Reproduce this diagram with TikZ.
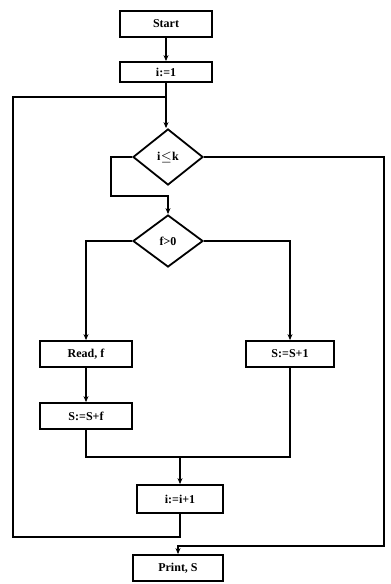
\documentclass[tikz,border=0pt]{standalone}
\usepackage{fontspec}
\setmainfont{Liberation Serif}
\usetikzlibrary{shapes.geometric,arrows.meta}

\begin{document}
\begin{tikzpicture}[x=0.5pt,y=-0.5pt, line width=0.9pt,
    >={Stealth[length=3pt,width=2.5pt]},
    box/.style={draw,minimum width=46pt,minimum height=13pt,inner sep=1pt,font=\bfseries\fontsize{6}{7}\selectfont},
    test/.style={draw,diamond,minimum width=35pt,minimum height=28pt,inner sep=0pt,font=\bfseries\fontsize{6}{7}\selectfont}]
    \useasboundingbox (0,0) rectangle (391,584);

    % boxes and tests
    \node[box] (start) at (166,24) {Start};
    \node[box,minimum height=10pt] (init) at (166,72) {i:=1};
    \node[test] (d1) at (168,157) {i$\le$k};
    \node[test,minimum height=26pt] (d2) at (168,241) {f>0};
    \node[box] (read) at (86,354) {Read, f};
    \node[box] (sum1) at (86,416) {S:=S+f};
    \node[box,minimum width=44pt] (sum2) at (290,354) {S:=S+1};
    \node[box,minimum width=43pt,minimum height=14pt] (inc) at (180,499) {i:=i+1};
    \node[box,minimum width=45pt] (out) at (178,568) {Print, S};

    % bend points
    \coordinate (j1) at (166,97);
    \coordinate (ret) at (13,537);
    \coordinate (up) at (13,97);
    \coordinate (lp) at (111,196);
    \coordinate (rx) at (384,546);
    \coordinate (mL) at (86,457);
    \coordinate (mR) at (290,457);

    % connectors
    \draw[->] (start) -- (init);
    \draw[->] (init) -- (init |- d1.north);
    \draw[->] (d1.west) -| (lp) -| (d2.north);
    \draw[->] (d1.east) -| (rx) -| (out.north);
    \draw[->] (d2.west) -| (read);
    \draw[->] (d2.east) -| (sum2);
    \draw[->] (read) -- (sum1);
    \draw (sum1) -- (mL) -- (mR) -- (sum2);
    \draw[->] (inc |- mL) -- (inc);
    \draw (inc) |- (ret) -- (up) -- (j1);
\end{tikzpicture}
\end{document}
